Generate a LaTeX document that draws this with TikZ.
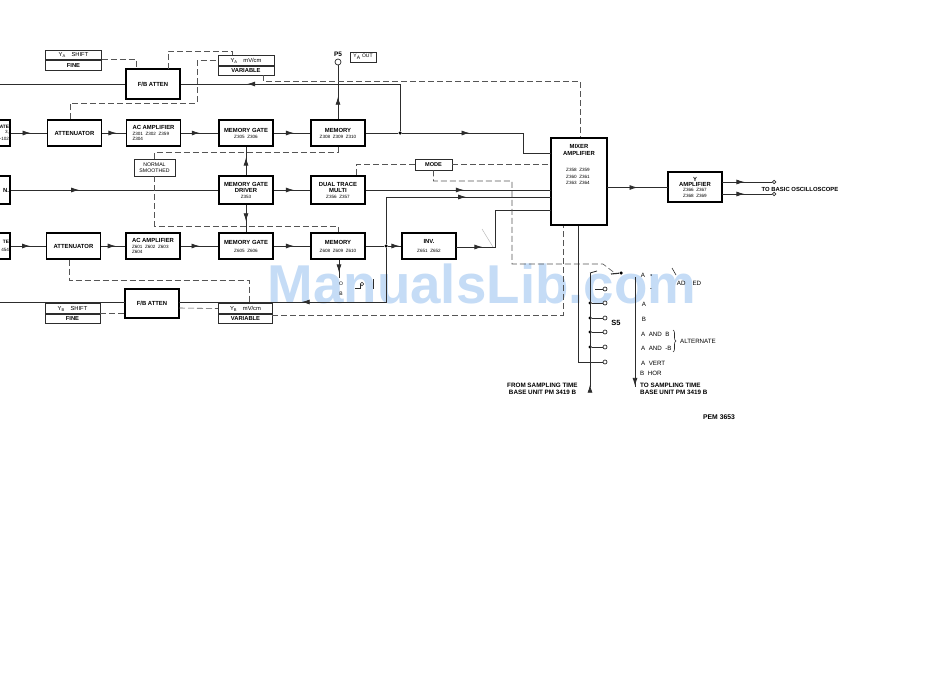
\documentclass[tikz,border=0pt]{standalone}
\usepackage{fontspec}
\setmainfont{Liberation Sans}
\usetikzlibrary{arrows.meta,positioning,decorations.markings,decorations.pathreplacing}
\definecolor{inkline}{RGB}{45,45,45}
\definecolor{dashline}{RGB}{85,85,85}
\definecolor{stamp}{RGB}{197,220,246}
\newcommand{\zlabel}[1]{{\fontsize{4.6}{5.5}\mdseries\selectfont #1}}
\tikzset{
  block/.style={draw=black,line width=1.1pt,minimum width=54,minimum height=26,inner sep=0.5pt,align=center,font=\fontsize{5.9}{7}\bfseries\selectfont},
  knob/.style={draw=inkline,line width=0.8pt,minimum width=56,minimum height=9.5,inner sep=0pt,font=\fontsize{5.8}{6}\selectfont},
  edgeblock/.style={block,minimum width=30,text width=28,inner xsep=1,align=right},
  lbl/.style={inner sep=0pt,align=center,font=\fontsize{6.2}{7}\selectfont},
  boldlbl/.style={inner sep=0pt,align=left,font=\fontsize{6.3}{7}\bfseries\selectfont},
  sig/.style={draw=inkline,line width=0.8pt},
  ctl/.style={draw=dashline,line width=0.6pt,dash pattern=on 6pt off 3pt},
  arr/.style={postaction={decorate},decoration={markings,mark=at position #1 with {\arrow{Latex[length=8pt,width=5pt]}}}},
  contact/.style={circle,draw=inkline,line width=0.7pt,fill=white,inner sep=0pt,minimum size=4},
  jdot/.style={circle,fill=black,inner sep=0pt,minimum size=3.5},
}
\begin{document}
\begin{tikzpicture}[x=1pt,y=-1pt]
  \useasboundingbox (0,0) rectangle (950,672);
  \clip (0,0) rectangle (950,672);
  \fill[white] (0,0) rectangle (950,672);
  \node[anchor=base,inner sep=0pt,text=stamp,font=\fontsize{54.7}{60}\bfseries\selectfont] (stampmark) at (482,303) {ManualsLib.com};

  % upper channel
  \node[edgeblock] (gateA) at (-5,133) {\fontsize{4.8}{5.5}\selectfont ATE\\\zlabel{3,}\\\zlabel{-102}};
  \node[block] (attA) at (74.5,133) {ATTENUATOR};
  \node[block,align=left] (ampA) at (153.5,133) {AC AMPLIFIER\\[-1pt]\zlabel{Z301 \ Z302 \ Z359}\\[-1.5pt]\zlabel{Z304}};
  \node[block] (mgA) at (246,133) {MEMORY GATE\\[-1pt]\zlabel{Z305 \ Z306}};
  \node[block] (memA) at (338,133) {MEMORY\\[-1pt]\zlabel{Z308 \ Z309 \ Z310}};
  \node[block,minimum height=30] (fbA) at (153,84) {F/B ATTEN};
  \node[knob] (shiftA) at (73.5,55) {$\mathrm{Y_A}$\quad SHIFT};
  \node[knob,below=0pt of shiftA,font=\fontsize{5.8}{6}\bfseries\selectfont] (fineA) {FINE};
  \node[knob] (mvA) at (246,60.5) {$\mathrm{Y_A}$\quad mV/cm};
  \node[knob,below=0pt of mvA,font=\fontsize{5.8}{6}\bfseries\selectfont] (varA) {VARIABLE};
  \node[contact,minimum size=6] (pfive) at (338,62) {};
  \node[lbl,above=2pt of pfive,font=\fontsize{6.5}{7}\bfseries\selectfont] (pfivetxt) {P5};
  \node[draw=inkline,line width=0.6pt,inner sep=1pt,minimum width=26,minimum height=10,font=\fontsize{5}{6}\selectfont] (yaout) at (363,57) {$\mathrm{Y_A}$ OUT};

  % middle channel
  \node[edgeblock,minimum height=28] (gateN) at (-5,190) {N.};
  \node[block,minimum height=28] (driver) at (246,190) {MEMORY GATE\\[-1pt]DRIVER\\[-1pt]\zlabel{Z353}};
  \node[block,minimum height=28] (dual) at (338,190) {DUAL TRACE\\[-1pt]MULTI\\[-1pt]\zlabel{Z356 \ Z357}};
  \node[draw=inkline,line width=0.7pt,inner sep=0pt,minimum width=41,minimum height=17,align=center,font=\fontsize{5.2}{6.2}\selectfont] (normal) at (154.5,167.5) {NORMAL\\SMOOTHED};
  \node[draw=inkline,line width=0.8pt,inner sep=0pt,minimum width=37,minimum height=11,font=\fontsize{5.6}{6}\bfseries\selectfont] (mode) at (433.5,164.5) {MODE};

  % lower channel
  \node[edgeblock] (gateB) at (-5,246) {\fontsize{4.8}{5.5}\selectfont TE\\[1pt]\zlabel{454}};
  \node[block] (attB) at (73.5,246) {ATTENUATOR};
  \node[block,align=left] (ampB) at (153,246) {AC AMPLIFIER\\[-1pt]\zlabel{Z601 \ Z602 \ Z603}\\[-1.5pt]\zlabel{Z604}};
  \node[block] (mgB) at (246,246) {MEMORY GATE\\[1pt]\zlabel{Z605 \ Z606}};
  \node[block] (memB) at (338,246) {MEMORY\\[1pt]\zlabel{Z608 \ Z609 \ Z610}};
  \node[block] (inv) at (429,246) {INV.\\[2pt]\zlabel{Z651 \ Z652}};
  \node[block,minimum height=29] (fbB) at (152,303.5) {F/B ATTEN};
  \node[knob,minimum width=55] (shiftB) at (72.5,308.5) {$\mathrm{Y_B}$\quad SHIFT};
  \node[knob,minimum width=55,below=0pt of shiftB,font=\fontsize{5.8}{6}\bfseries\selectfont] (fineB) {FINE};
  \node[knob,minimum width=54] (mvB) at (245.5,308.5) {$\mathrm{Y_B}$\quad mV/cm};
  \node[knob,minimum width=54,below=0pt of mvB,font=\fontsize{5.8}{6}\bfseries\selectfont] (varB) {VARIABLE};

  % mixer and output
  \node[block,minimum width=56,minimum height=87] (mixer) at (579,181.5) {};
  \node[boldlbl,align=center,font=\fontsize{5.9}{6.6}\bfseries\selectfont] (mixertxt) at (579,150) {MIXER\\AMPLIFIER};
  \node[lbl,font=\fontsize{4.6}{6.5}\selectfont] (mixerz) at (578,176.5) {Z358 \ Z359\\Z360 \ Z361\\Z363 \ Z364};
  \node[block,minimum height=30] (yamp) at (695,187) {Y\\[-2pt]AMPLIFIER\\[-2pt]\zlabel{Z366 \ Z367}\\[-1pt]\zlabel{Z368 \ Z369}};
  \node[contact,minimum size=3.5] (outA) at (774,182) {};
  \node[contact,minimum size=3.5] (outB) at (774,194) {};
  \node[boldlbl,font=\fontsize{5.9}{7}\bfseries\selectfont] (basic) at (800,189) {TO BASIC OSCILLOSCOPE};

  % free ends and junctions
  \coordinate (inA) at (0,84);
  \coordinate (inB) at (0,302);
  \coordinate (fbBl) at (125,302);
  \coordinate (fbBr) at (179,302);
  \node[jdot] (dotA) at (400,133) {};
  \node[jdot] (dotB) at (386,246) {};
  \coordinate (kneeA) at (523,133);
  \coordinate (mixA) at (551,153);
  \coordinate (mixB) at (551,190);
  \coordinate (mixC) at (551,197);
  \coordinate (mixD) at (551,210);
  \coordinate (mixR) at (607,187.5);
  \coordinate (yampL) at (668,187.5);
  \coordinate (kneeD) at (495,247);
  \coordinate (invR) at (456,247);
  \coordinate (yampT) at (722,182);
  \coordinate (yampB) at (722,194);

  % signal paths
  \draw[sig] (inA) -- (fbA);
  \draw[sig,arr=0.75] (dotA) |- (fbA);
  \draw[sig,arr=0.55] (gateA) -- (attA);
  \draw[sig,arr=0.6] (attA) -- (ampA);
  \draw[sig,arr=0.5] (ampA) -- (mgA);
  \draw[sig,arr=0.55] (mgA) -- (memA);
  \draw[sig] (memA) -- (dotA);
  \draw[sig,arr=0.4] (dotA) -- (kneeA) |- (mixA);
  \draw[sig,arr=0.42] (memA) -- (pfive);
  \draw[sig,arr=0.62] (driver) -- (mgA);
  \draw[sig,arr=0.6] (driver) -- (mgB);
  \draw[sig,arr=0.33] (gateN) -- (driver);
  \draw[sig,arr=0.55] (driver) -- (dual);
  \draw[sig,arr=0.53] (dual) -- (mixB);
  \draw[sig,arr=0.55] (gateB) -- (attB);
  \draw[sig,arr=0.6] (attB) -- (ampB);
  \draw[sig,arr=0.5] (ampB) -- (mgB);
  \draw[sig,arr=0.55] (mgB) -- (memB);
  \draw[sig] (memB) -- (dotB);
  \draw[sig,arr=0.85] (dotB) -- (inv);
  \draw[sig,arr=0.6] (dotB) |- (mixC);
  \draw[sig,arr=0.2] (invR) -- (kneeD) |- (mixD);
  \draw[sig,arr=0.53] (dotB) |- (fbBr);
  \draw[sig] (inB) -- (fbBl);
  \draw[sig,arr=0.5] (mixR) -- (yampL);
  \draw[sig,arr=0.45] (yampT) -- (outA);
  \draw[sig,arr=0.45] (yampB) -- (outB);
  \draw[gray!60,line width=0.4pt] (482,229) -- (493,247);

  % output of memory B, overprinted
  \coordinate (pfdrop) at (339,278);
  \draw[sig,arr=0.7] (memB.south) ++(1,0) -- (pfdrop);
  \node[lbl,font=\fontsize{5}{6}\selectfont] (pstub) at (341,284) {O};
  \node[lbl,font=\fontsize{5}{6}\selectfont] (bstub) at (341,294) {B};
  \node[draw=inkline,line width=0.5pt,inner sep=0pt,minimum size=3.5,circle] (ybring) at (362,284) {};
  \coordinate (ybfrag) at (355,288);
  \draw[draw=inkline,line width=0.5pt] (ybfrag) -- ++(5,0) -- ++(0,-4);
  \coordinate (ybbar) at (373,279);
  \draw[inkline,line width=0.8pt] (ybbar) -- ++(0,10);

  % control lines
  \coordinate (a1) at (136,59);
  \draw[ctl] (shiftA.east) ++(0,4) -- (a1) -- (fbA.north -| a1);
  \coordinate (a2) at (168,69);
  \coordinate (a3) at (232,51);
  \draw[ctl] (a2) |- (a3) -- (mvA.north -| a3);
  \coordinate (a4) at (70,119);
  \coordinate (a5) at (197,103);
  \draw[ctl] (a4) |- (a5) |- (mvA.west);
  \coordinate (a6) at (263,75);
  \coordinate (a7) at (580,81);
  \draw[ctl] (a6) |- (a7) -- (mixer.north -| a7);
  \coordinate (n1) at (338,152);
  \draw[ctl] (normal.north) |- (n1) -- (memA.south);
  \coordinate (n2) at (338,226);
  \draw[ctl] (normal.south) |- (n2) -- (memB.north);
  \coordinate (m1) at (356,164.5);
  \draw[ctl] (mode.west) -- (m1) -- (dual.north -| m1);
  \coordinate (m2) at (551,164.5);
  \draw[ctl] (mode.east) -- (m2);
  \coordinate (m3) at (512,181);
  \coordinate (m4) at (603,264);
  \coordinate (swtip) at (616,274);
  \draw[ctl] (mode.south) |- (m3) |- (m4) -- (swtip);
  \coordinate (b1) at (69,280);
  \coordinate (b2) at (249,280);
  \draw[ctl] (attB.south -| b1) -- (b1) -- (b2) -- (mvB.north -| b2);
  \coordinate (b3) at (125,313);
  \coordinate (b3s) at (100,313);
  \draw[ctl] (b3s) -- (b3);
  \coordinate (b4) at (179,308);
  \draw[ctl] (b4) -- (mvB.west);
  \coordinate (b5) at (272,315);
  \coordinate (b6) at (563,315);
  \draw[ctl] (b5) -- (b6) -- (mixer.south -| b6);

  % sampling switch S5
  \node[contact] (c289) at (605,289) {};
  \coordinate (s289) at (595,289);
  \draw[sig] (s289) -- (c289);
  \foreach \y in {303,318,332,347} {
    \node[contact] (c\y) at (605,\y) {};
    \node[jdot] (d\y) at (590,\y) {};
    \draw[sig] (d\y) -- (c\y);
  }
  \node[contact] (c362) at (605,362) {};
  \coordinate (k362) at (578,362);
  \draw[sig] (mixer.south -| k362) -- (k362) -- (c362);
  \coordinate (swfrom) at (590,387);
  \coordinate (swtop) at (590,273);
  \coordinate (swtopr) at (597,271);
  \draw[sig,arr=0.02] (swfrom) -- (swtop);
  \draw[sig] (swtop) -- (swtopr);
  \node[jdot] (swpole) at (621,273) {};
  \coordinate (swarm) at (611,274);
  \draw[inkline,line width=1.1pt] (swarm) -- (swpole);
  \coordinate (swto) at (635,387);
  \coordinate (swtoT) at (635,277);
  \draw[sig,arr=0.99] (swtoT) -- (swto);

  % switch legend
  \node[lbl,font=\fontsize{7.5}{8}\bfseries\selectfont] (sfive) at (616,323) {S5};
  \node[lbl] (legA) at (643,275) {A};
  \node[jdot,minimum size=1.5] (legdot) at (651,275) {};
  \node[lbl] (legminus) at (651,290) {-};
  \node[lbl] (lega) at (644,304) {A};
  \node[lbl] (legb) at (644,319) {B};
  \node[lbl,anchor=west] (legand) at (641,334) {A \ AND \ B};
  \node[lbl,anchor=west] (legandm) at (641,348) {A \ AND \ -B};
  \node[lbl,anchor=west] (legalt) at (680,341) {ALTERNATE};
  \node[lbl,anchor=west] (legvert) at (641,363) {A \ VERT};
  \node[lbl,anchor=west] (leghor) at (640,373) {B \ HOR};
  \node[lbl] (legadd) at (689,283) {AD\hspace{7pt}ED};
  \coordinate (bAt) at (673,330);
  \coordinate (bAb) at (673,352);
  \draw[inkline,line width=0.6pt,decorate,decoration={brace,amplitude=3pt}] (bAt) -- (bAb);
  \coordinate (bDt) at (672,268);
  \coordinate (bDm) at (676,275);
  \draw[inkline,line width=0.6pt] (bDt) -- (bDm);
  \node[boldlbl,anchor=north west] (fromtxt) at (507,383) {FROM SAMPLING TIME\\\ BASE UNIT PM 3419 B};
  \node[boldlbl,anchor=north west] (totxt) at (640,383) {TO SAMPLING TIME\\BASE UNIT PM 3419 B};
  \node[boldlbl,font=\fontsize{6.8}{7}\bfseries\selectfont] (pem) at (719,417) {PEM 3653};
\end{tikzpicture}
\end{document}
